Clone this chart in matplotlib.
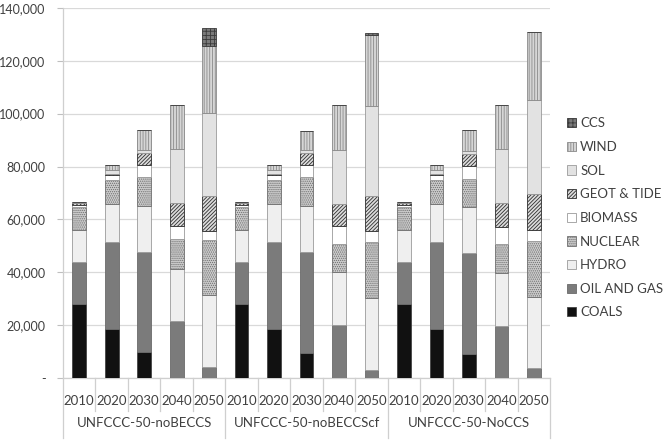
import matplotlib.pyplot as plt
import matplotlib.transforms as mtransforms
from matplotlib.patches import Patch
import numpy as np

plt.rcParams['font.family'] = ['Lato', 'DejaVu Sans']
plt.rcParams['hatch.linewidth'] = 0.6

# categories
years = ['2010', '2020', '2030', '2040', '2050'] * 3
scenarios = ['UNFCCC-50-noBECCS', 'UNFCCC-50-noBECCScf', 'UNFCCC-50-NoCCS']

# stacked series, bottom to top
coals   = [28000, 18700, 9700, 0, 0,     28000, 18700, 9600, 0, 0,     28000, 18700, 9200, 0, 0]
oil_gas = [16000, 32700, 38100, 21400, 4000, 16000, 32700, 38100, 19900, 2900, 16000, 32700, 38200, 19750, 3750]
hydro   = [12000, 14600, 17400, 19750, 27200, 12000, 14600, 17400, 20000, 27300, 12000, 14400, 17100, 19900, 26700]
nuclear = [8800, 8800, 10900, 11400, 21000, 8800, 8800, 10900, 10800, 21100, 8800, 9100, 10900, 10900, 21400]
biomass = [800, 1900, 4400, 4900, 3500, 800, 1900, 4400, 6900, 4300, 800, 1900, 4800, 6700, 4150]
geot    = [500, 500, 4700, 8600, 13200, 500, 500, 4700, 8400, 13300, 500, 500, 4700, 8800, 13600]
sol     = [100, 1300, 1000, 20400, 31300, 100, 1300, 1000, 20400, 34100, 100, 1300, 1000, 20400, 35500]
wind    = [300, 2100, 7500, 16700, 25300, 300, 2100, 7500, 16700, 26700, 300, 1800, 7800, 16700, 25800]
ccs     = [0, 0, 0, 0, 6800, 0, 0, 0, 0, 750, 0, 0, 0, 0, 0]

yticks = [0, 20000, 40000, 60000, 80000, 100000, 120000, 140000]
ytick_labels = ['-', '20,000', '40,000', '60,000', '80,000', '100,000', '120,000', '140,000']

# name, values, face, edge, hatch
series = [
    ('COALS', coals, '#111111', '#444444', None),
    ('OIL AND GAS', oil_gas, '#7b7b7b', '#6a6a6a', None),
    ('HYDRO', hydro, '#efefef', '#9a9a9a', None),
    ('NUCLEAR', nuclear, '#cccccc', '#6e6e6e', '.' * 8),
    ('BIOMASS', biomass, '#ffffff', '#9a9a9a', None),
    ('GEOT & TIDE', geot, '#dcdcdc', '#2e2e2e', '/' * 9),
    ('SOL', sol, '#e2e2e2', '#9a9a9a', None),
    ('WIND', wind, '#d6d6d6', '#8a8a8a', '|' * 6),
    ('CCS', ccs, '#7a7a7a', '#3a3a3a', '+' * 4),
]

fig = plt.figure(figsize=(6.63, 4.40), dpi=100)
ax = fig.add_axes([0.095, 0.141, 0.735, 0.841])

x = np.arange(len(years))
bottom = np.zeros(len(years))
handles = []
for name, vals, face, edge, hatch in series:
    vals = np.array(vals, dtype=float)
    ax.bar(x, vals, width=0.42, bottom=bottom, color=face, edgecolor=edge,
           hatch=hatch, linewidth=0.6, zorder=3)
    bottom += vals
    handles.append(Patch(facecolor=face, edgecolor=edge, hatch=hatch, linewidth=0.6, label=name))

ax.set_xlim(-0.5, len(years) - 0.5)
ax.set_ylim(0, 140000)
ax.set_yticks(yticks)
ax.set_yticklabels(ytick_labels, fontsize=9, color='#404040')
ax.yaxis.grid(True, color='#d9d9d9', linewidth=0.9, zorder=0)
ax.tick_params(axis='y', length=4.5, width=0.8, color='#bfbfbf', pad=8)

ax.set_xticks(x)
ax.set_xticklabels(years, fontsize=9.5, color='#404040')
ax.tick_params(axis='x', length=0, pad=12)

for s in ['top', 'right']:
    ax.spines[s].set_visible(False)
for s in ['left', 'bottom']:
    ax.spines[s].set_color('#cfcfcf')
    ax.spines[s].set_linewidth(0.9)

# multi-level category axis: separators and group labels
trans = mtransforms.blended_transform_factory(ax.transData, ax.transAxes)
axh_px = 0.841 * 440
for i in range(len(years) + 1):
    xs = i - 0.5
    if i % 5 == 0:
        ax.plot([xs, xs], [0, -60 / axh_px], transform=trans, color='#cfcfcf',
                linewidth=0.9, clip_on=False)
    else:
        ax.plot([xs, xs], [0, -33 / axh_px], transform=trans, color='#cfcfcf',
                linewidth=0.9, clip_on=False)
for g, name in enumerate(scenarios):
    ax.text(g * 5 + 2, -45 / axh_px, name, transform=trans, ha='center', va='center',
            fontsize=9.5, color='#404040')

fig.legend(handles=handles[::-1], loc='upper left', bbox_to_anchor=(0.847, 0.745),
           frameon=False, fontsize=9.5, labelspacing=0.88, handlelength=0.7,
           handleheight=0.7, handletextpad=0.3, borderaxespad=0, labelcolor='#404040')

plt.savefig('out.png', dpi=100)
